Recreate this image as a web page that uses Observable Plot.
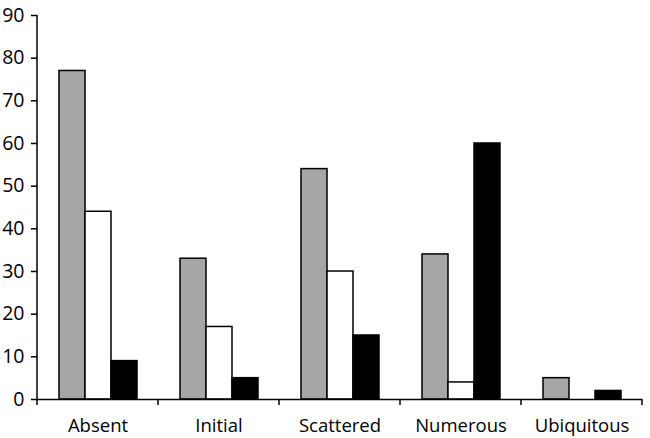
<!DOCTYPE html>
<html><head><meta charset="utf-8">
<script src="https://cdn.jsdelivr.net/npm/d3@7"></script>
<script src="https://cdn.jsdelivr.net/npm/@observablehq/plot@0.6"></script>
<style>body{margin:0;background:#fff;}</style>
</head><body><div id="chart"></div>
<script>
const categories = ["Absent", "Initial", "Scattered", "Numerous", "Ubiquitous"];
const series = ["Series 1", "Series 2", "Series 3"];
const grayValues = [77, 33, 54, 34, 5];
const whiteValues = [44, 17, 30, 4, 0];
const blackValues = [9, 5, 15, 60, 2];
const yTicks = [0, 10, 20, 30, 40, 50, 60, 70, 80, 90];
const seriesColors = ["#a6a6a6", "#ffffff", "#000000"];

const rows = [];
categories.forEach((c, i) => {
  rows.push({category: c, series: series[0], value: grayValues[i]});
  rows.push({category: c, series: series[1], value: whiteValues[i]});
  rows.push({category: c, series: series[2], value: blackValues[i]});
});

const chart = Plot.plot({
  width: 650, height: 438,
  marginLeft: 36, marginRight: 7, marginTop: 15, marginBottom: 39,
  style: {fontFamily: "Open Sans", fontSize: "18px", background: "#fff", color: "#000"},
  fx: {domain: categories, padding: 0, label: null},
  x: {domain: series, paddingInner: 0, paddingOuter: 0.75, axis: null},
  y: {domain: [0, 90], ticks: yTicks, label: null},
  color: {domain: series, range: seriesColors},
  marks: [
    Plot.barY(rows, {fx: "category", x: "series", y: "value", fill: "series", stroke: "#000", strokeWidth: 1.5}),
    Plot.axisY({ticks: yTicks, tickSize: 6, tickPadding: 7, label: null, anchor: "left", strokeWidth: 1.5, fontSize: 19.5}),
    Plot.axisFx({tickSize: 0, tickPadding: 19, label: null, anchor: "bottom", fontSize: 18.5}),
    Plot.ruleY([0], {stroke: "#000", strokeWidth: 1.5})
  ]
});
document.getElementById("chart").appendChild(chart);

// axis line and category boundary ticks, placed through the plot's own scales
const y = chart.scale("y"), fx = chart.scale("fx");
const svg = d3.select(chart);
const g = svg.append("g").attr("stroke", "#000").attr("stroke-width", 1.5);
const x0 = fx.apply(categories[0]);
g.append("line").attr("x1", x0).attr("x2", x0).attr("y1", y.apply(90)).attr("y2", y.apply(0) + 6);
categories.forEach(c => {
  const xb = fx.apply(c) + fx.bandwidth;
  g.append("line").attr("x1", xb).attr("x2", xb).attr("y1", y.apply(0)).attr("y2", y.apply(0) + 6);
});
</script>
</body></html>
